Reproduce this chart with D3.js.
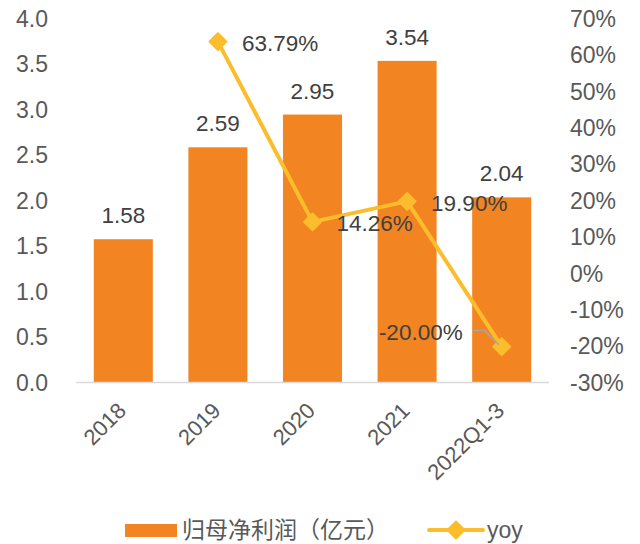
<!DOCTYPE html>
<html><head><meta charset="utf-8">
<script src="https://cdn.jsdelivr.net/npm/d3@7"></script>
<style>body{margin:0;background:#fff}svg{display:block}</style>
</head><body>
<script>
const categories = ["2018","2019","2020","2021","2022Q1-3"];
const profit = [1.58, 2.59, 2.95, 3.54, 2.04];
const profitLabels = ["1.58","2.59","2.95","3.54","2.04"];
const yoy = [null, 63.79, 14.26, 19.90, -20.00];
const yoyLabels = [null, "63.79%", "14.26%", "19.90%", "-20.00%"];
const leftTicks = [0,0.5,1,1.5,2,2.5,3,3.5,4];
const rightTicks = [-30,-20,-10,0,10,20,30,40,50,60,70];
const seriesNames = ["归母净利润（亿元）", "yoy"];

const W = 640, H = 544;
const barColor = "#F28522", lineColor = "#FBBD2C", textColor = "#595959", labelColor = "#404040";
const font = "'Liberation Sans', Arial, sans-serif";

const svg = d3.select("body").append("svg").attr("width", W).attr("height", H)
  .style("font-family", font);

const x = d3.scaleBand().domain(categories).range([76, 549]).paddingInner(0.376).paddingOuter(0.188);
const yL = d3.scaleLinear().domain([0, 4]).range([383, 19]);
const yR = d3.scaleLinear().domain([-30, 70]).range([383, 19]);

// bars
svg.append("g").selectAll("rect").data(categories).join("rect")
  .attr("x", d => x(d)).attr("width", x.bandwidth())
  .attr("y", (d,i) => yL(profit[i])).attr("height", (d,i) => yL(0) - yL(profit[i]))
  .attr("fill", barColor);

// baseline
svg.append("line").attr("x1", 76).attr("x2", 549).attr("y1", yL(0)-0.5).attr("y2", yL(0)-0.5)
  .attr("stroke", "#d9d9d9").attr("stroke-width", 1.5);

// left axis
const axL = svg.append("g").attr("transform", "translate(48,0)")
  .call(d3.axisLeft(yL).tickValues(leftTicks).tickFormat(d3.format(".1f")).tickSize(0).tickPadding(0));
axL.select(".domain").remove();
axL.selectAll("text").attr("font-size", 23).attr("fill", textColor).attr("font-family", font);

// right axis
const axR = svg.append("g").attr("transform", "translate(570,0)")
  .call(d3.axisRight(yR).tickValues(rightTicks).tickFormat(d => d + "%").tickSize(0).tickPadding(0));
axR.select(".domain").remove();
axR.selectAll("text").attr("font-size", 23).attr("fill", textColor).attr("font-family", font);

// x labels
const axX = svg.append("g");
axX.selectAll("text").data(categories).join("text")
  .attr("transform", d => `translate(${x(d) + x.bandwidth()/2 + 4},${412}) rotate(-45)`)
  .attr("text-anchor", "end").attr("font-size", 22).attr("fill", textColor).text(d => d);

// bar value labels
svg.append("g").selectAll("text").data(categories).join("text")
  .attr("x", d => x(d) + x.bandwidth()/2).attr("y", (d,i) => yL(profit[i]) - 16)
  .attr("text-anchor", "middle").attr("font-size", 22.5).attr("fill", labelColor)
  .text((d,i) => profitLabels[i]);

// line
const pts = categories.map((c,i) => ({c, v: yoy[i], l: yoyLabels[i]})).filter(d => d.v !== null);
const cx = d => x(d.c) + x.bandwidth()/2;
svg.append("path").datum(pts)
  .attr("d", d3.line().x(cx).y(d => yR(d.v)))
  .attr("fill", "none").attr("stroke", lineColor).attr("stroke-width", 4).attr("stroke-linejoin", "round");

const diamond = "M0,-8.5L8.5,0L0,8.5L-8.5,0Z";
svg.append("g").selectAll("path").data(pts).join("path")
  .attr("transform", d => `translate(${cx(d)},${yR(d.v)})`)
  .attr("d", diamond).attr("fill", lineColor).attr("stroke", lineColor).attr("stroke-width", 2).attr("stroke-linejoin", "round");

// line labels
pts.forEach((d, i) => {
  const px = cx(d), py = yR(d.v);
  if (d.v < 0) {
    svg.append("polyline")
      .attr("points", [[px-29, py-16],[px-17, py-16],[px-3, py-2]].map(p => p.join(",")).join(" "))
      .attr("fill", "none").attr("stroke", "#a6a6a6").attr("stroke-width", 1.5);
    svg.append("text").attr("x", px - 39).attr("y", py - 14.5).attr("dy", "0.36em")
      .attr("text-anchor", "end").attr("font-size", 22.5).attr("fill", labelColor).text(d.l);
  } else {
    svg.append("text").attr("x", px + 24).attr("y", py + 1.5).attr("dy", "0.36em")
      .attr("text-anchor", "start").attr("font-size", 22.5).attr("fill", labelColor).text(d.l);
  }
});

// legend
const lg = svg.append("g");
lg.append("rect").attr("x", 125).attr("y", 524).attr("width", 52).attr("height", 13).attr("fill", barColor);
lg.append("text").attr("x", 182).attr("y", 530).attr("dy", "0.36em")
  .attr("font-family", "'Noto Sans CJK SC', sans-serif").attr("font-size", 23).attr("fill", textColor)
  .text(seriesNames[0]);
lg.append("line").attr("x1", 429).attr("x2", 483).attr("y1", 530).attr("y2", 530)
  .attr("stroke", lineColor).attr("stroke-width", 4).attr("stroke-linecap", "round");
lg.append("path").attr("transform", "translate(456,530)").attr("d", diamond)
  .attr("fill", lineColor).attr("stroke", lineColor).attr("stroke-width", 2).attr("stroke-linejoin", "round");
lg.append("text").attr("x", 487).attr("y", 530).attr("dy", "0.36em")
  .attr("font-size", 23).attr("fill", textColor).text(seriesNames[1]);
</script>
</body></html>
